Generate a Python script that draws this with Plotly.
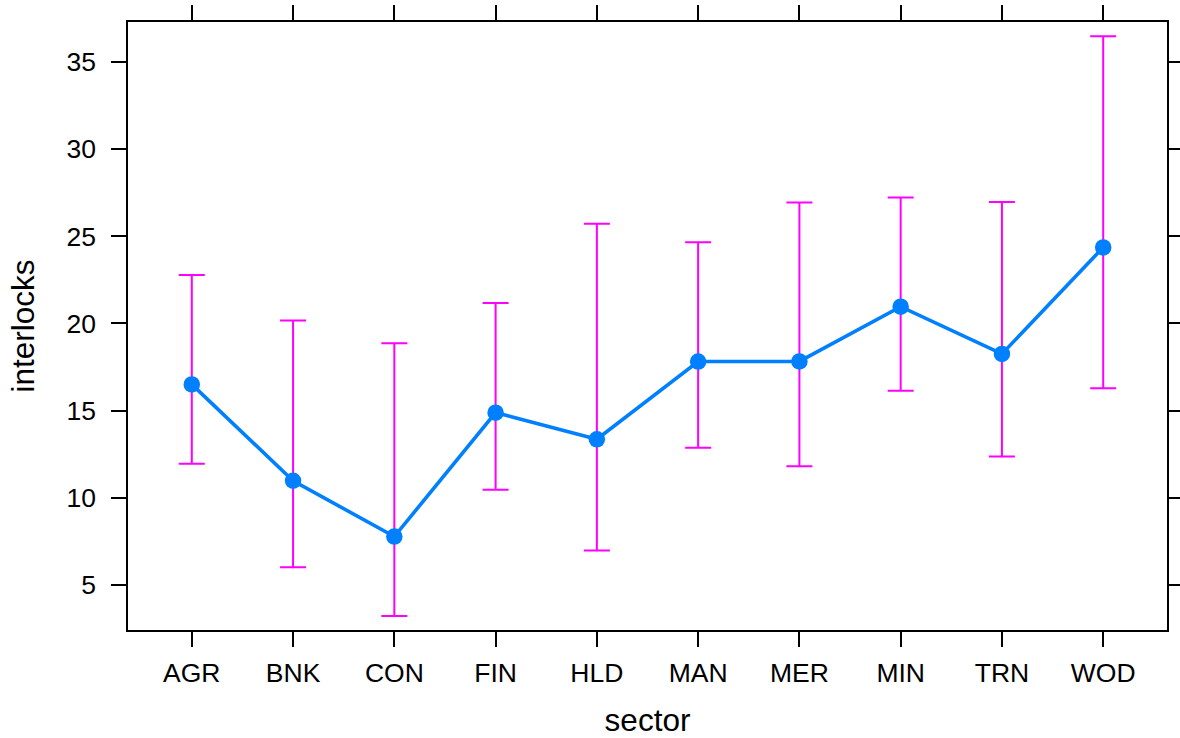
import plotly.graph_objects as go

sectors = ["AGR", "BNK", "CON", "FIN", "HLD", "MAN", "MER", "MIN", "TRN", "WOD"]
mean_interlocks = [16.5, 10.97, 7.77, 14.88, 13.35, 17.81, 17.82, 20.96, 18.25, 24.36]
upper_interlocks = [22.78, 20.16, 18.86, 21.17, 25.71, 24.65, 26.93, 27.22, 26.97, 36.47]
lower_interlocks = [11.95, 6.01, 3.22, 10.46, 6.97, 12.87, 11.8, 16.14, 12.36, 16.28]
y_ticks = [5, 10, 15, 20, 25, 30, 35]

err_plus = [u - m for u, m in zip(upper_interlocks, mean_interlocks)]
err_minus = [m - l for m, l in zip(mean_interlocks, lower_interlocks)]

fig = go.Figure()
fig.add_trace(go.Scatter(
    x=sectors, y=mean_interlocks, mode="markers",
    marker=dict(size=0.1, opacity=0, color="#ff00ff"),
    error_y=dict(type="data", symmetric=False, array=err_plus, arrayminus=err_minus,
                 color="#ff00ff", thickness=2, width=13),
    hoverinfo="skip", showlegend=False,
))
fig.add_trace(go.Scatter(
    x=sectors, y=mean_interlocks, mode="lines+markers",
    line=dict(color="#0080ff", width=3.6),
    marker=dict(color="#0080ff", size=16.5),
    showlegend=False,
))

axis_font = dict(family="Liberation Sans, Arial, sans-serif", size=26.5, color="black")
title_font = dict(family="Liberation Sans, Arial, sans-serif", size=31.5, color="black")

fig.update_layout(
    width=1180, height=738,
    margin=dict(l=127.5, r=12.5, t=22, b=108),
    paper_bgcolor="white", plot_bgcolor="white",
    xaxis=dict(
        type="category", range=[-0.63, 9.63], automargin=False,
        showline=True, linecolor="black", linewidth=1.5, mirror="ticks",
        ticks="outside", ticklen=15, tickwidth=1.5, tickcolor="black",
        ticklabelstandoff=3,
        showgrid=False, zeroline=False, tickfont=axis_font,
        title=dict(text="sector", font=title_font, standoff=26),
    ),
    yaxis=dict(
        range=[2.41, 37.29], tickvals=y_ticks, automargin=False,
        showline=True, linecolor="black", linewidth=1.5, mirror="ticks",
        ticks="outside", ticklen=15, tickwidth=1.5, tickcolor="black",
        ticklabelstandoff=10,
        showgrid=False, zeroline=False, tickfont=axis_font,
        title=dict(text="interlocks", font=title_font, standoff=22),
    ),
)

fig.write_html("out.html")
